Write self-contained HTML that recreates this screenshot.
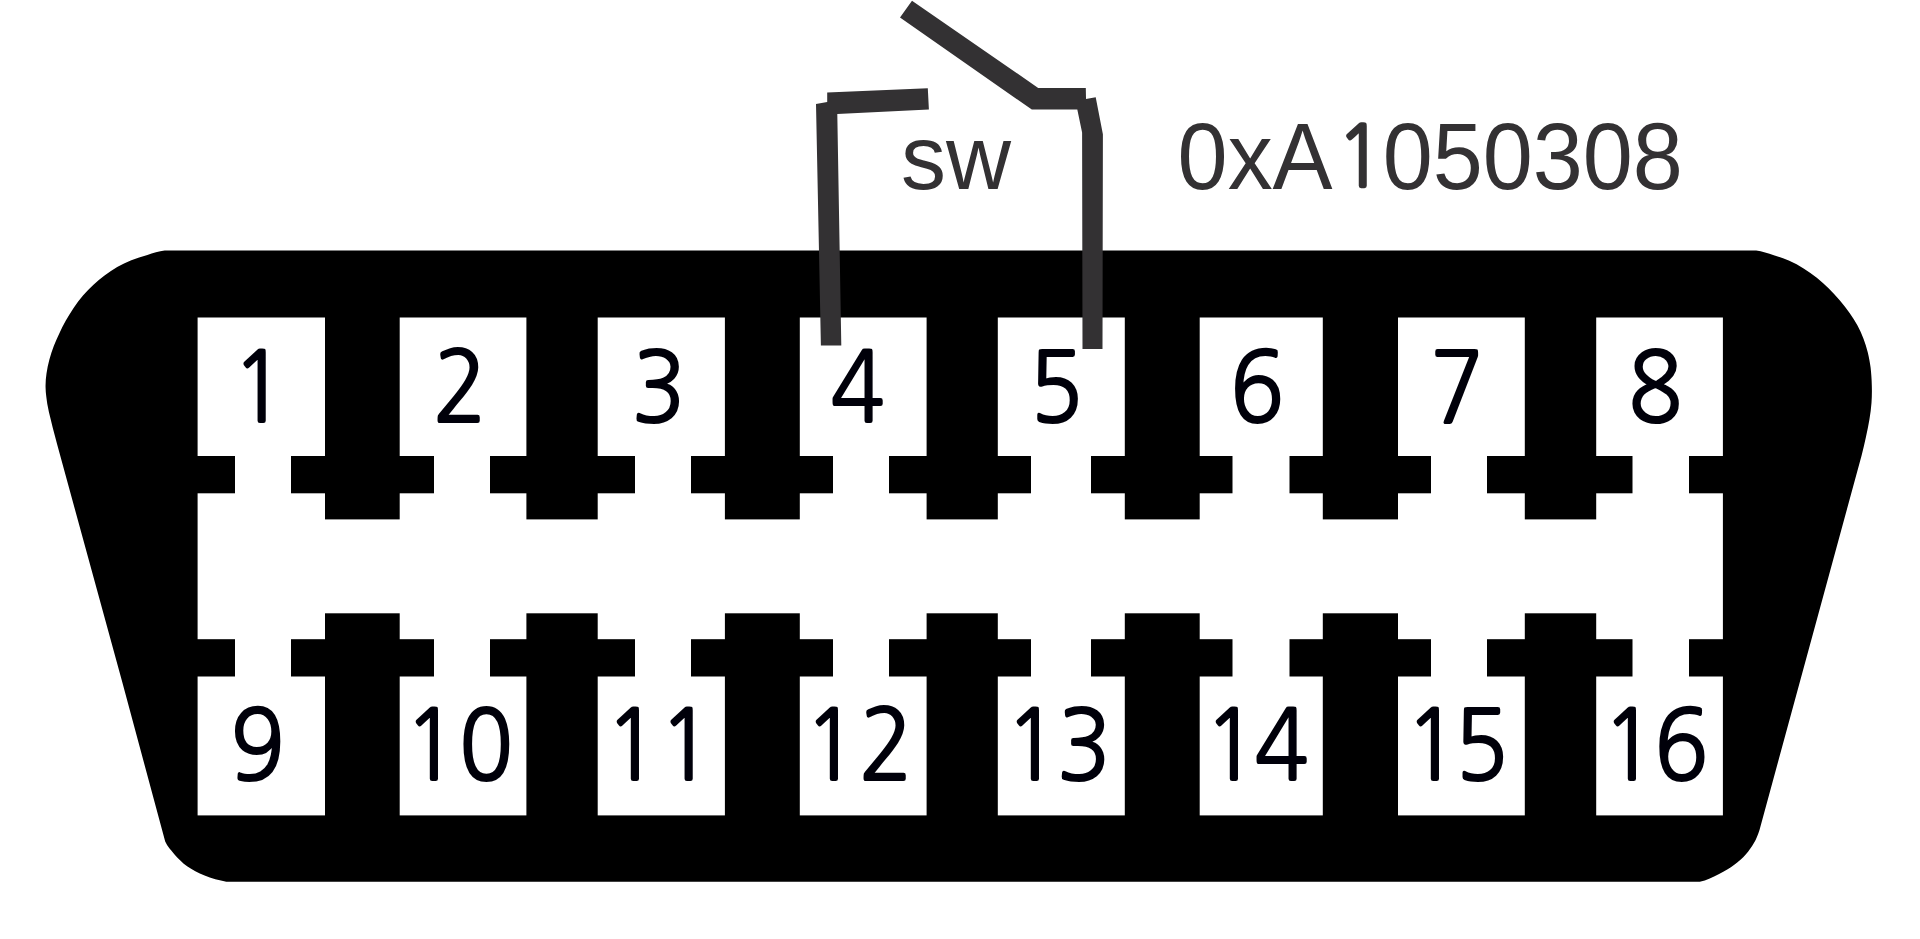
<!DOCTYPE html>
<html lang="en"><head><meta charset="utf-8"><title>OBD-II connector</title>
<style>html,body{margin:0;padding:0;background:#fff;overflow:hidden}svg{display:block}</style>
</head><body>
<svg width="1920" height="939" viewBox="0 0 1920 939" font-family="'Liberation Sans', Arial, sans-serif"><path d="M164.7,250.6 C158.8,251.3 153.0,253.3 147.4,254.9 C141.8,256.5 136.3,258.3 131.3,260.3 C126.3,262.3 121.6,264.6 117.2,267.1 C112.9,269.6 108.9,272.3 104.9,275.2 C101.0,278.1 97.2,281.3 93.5,284.7 C89.8,288.1 86.3,291.7 83.0,295.6 C79.7,299.5 76.5,303.7 73.6,307.9 C70.7,312.1 68.1,316.6 65.7,320.8 C63.3,325.1 61.3,329.2 59.3,333.4 C57.3,337.6 55.5,341.6 53.8,346.0 C52.2,350.3 50.7,354.8 49.4,359.4 C48.2,364.0 47.1,368.7 46.5,373.5 C45.8,378.3 45.4,383.0 45.6,388.1 C45.7,393.2 46.5,398.6 47.3,403.9 C48.2,409.2 49.5,414.5 50.8,419.7 C52.0,425.0 53.3,430.0 54.8,435.5 C56.3,441.1 57.9,447.2 59.5,453.1 L121.7,680 L165.2,841.6 C167.5,846.6 170.5,849.8 174.1,853.9 C177.8,858.0 182.0,862.6 187.1,866.2 C192.2,869.8 198.1,873.0 204.6,875.6 C211.2,878.2 219.4,880.7 226.3,881.7 L1699.8,881.7 C1706.4,880.4 1713.4,876.7 1719.1,873.9 C1724.9,871.0 1729.9,868.0 1734.3,864.7 C1738.8,861.5 1742.5,858.1 1745.7,854.5 C1749.0,850.9 1751.6,847.1 1753.9,843.1 C1756.2,839.0 1757.8,835.1 1759.5,829.9 L1861.6,455.5 C1863.1,449.4 1864.7,442.8 1866.0,436.7 C1867.3,430.7 1868.6,424.8 1869.5,419.1 C1870.4,413.5 1871.1,408.4 1871.5,402.8 C1871.9,397.1 1872.0,391.1 1871.8,385.2 C1871.7,379.3 1871.2,373.1 1870.6,367.6 C1869.9,362.2 1869.0,357.3 1867.8,352.4 C1866.6,347.6 1865.2,343.2 1863.5,338.7 C1861.8,334.2 1859.8,329.8 1857.5,325.5 C1855.2,321.2 1852.5,317.0 1849.6,312.9 C1846.7,308.8 1843.4,304.7 1839.9,300.6 C1836.5,296.6 1832.7,292.4 1828.8,288.6 C1824.9,284.8 1821.0,281.1 1816.8,277.8 C1812.6,274.4 1808.2,271.2 1803.6,268.4 C1799.0,265.6 1794.3,263.0 1789.3,260.8 C1784.3,258.6 1779.3,256.9 1773.8,255.2 C1768.2,253.5 1762.1,251.4 1756.2,250.6 Z" fill="#000"/>
<rect x="197.6" y="317.5" width="1525.3" height="497.9" fill="#fff"/>
<rect x="325" y="316.5" width="74.7" height="202.9" fill="#000"/>
<rect x="325" y="613.3" width="74.7" height="203.1" fill="#000"/>
<rect x="526.4" y="316.5" width="71.3" height="202.9" fill="#000"/>
<rect x="526.4" y="613.3" width="71.3" height="203.1" fill="#000"/>
<rect x="724.9" y="316.5" width="74.9" height="202.9" fill="#000"/>
<rect x="724.9" y="613.3" width="74.9" height="203.1" fill="#000"/>
<rect x="926.6" y="316.5" width="71.2" height="202.9" fill="#000"/>
<rect x="926.6" y="613.3" width="71.2" height="203.1" fill="#000"/>
<rect x="1124.8" y="316.5" width="74.9" height="202.9" fill="#000"/>
<rect x="1124.8" y="613.3" width="74.9" height="203.1" fill="#000"/>
<rect x="1322.8" y="316.5" width="75.2" height="202.9" fill="#000"/>
<rect x="1322.8" y="613.3" width="75.2" height="203.1" fill="#000"/>
<rect x="1524.8" y="316.5" width="71.4" height="202.9" fill="#000"/>
<rect x="1524.8" y="613.3" width="71.4" height="203.1" fill="#000"/>
<rect x="196.6" y="456" width="38.4" height="37.3" fill="#000"/>
<rect x="196.6" y="639.2" width="38.4" height="37.3" fill="#000"/>
<rect x="291" y="456" width="143.0" height="37.3" fill="#000"/>
<rect x="291" y="639.2" width="143.0" height="37.3" fill="#000"/>
<rect x="490" y="456" width="145.0" height="37.3" fill="#000"/>
<rect x="490" y="639.2" width="145.0" height="37.3" fill="#000"/>
<rect x="691" y="456" width="142.0" height="37.3" fill="#000"/>
<rect x="691" y="639.2" width="142.0" height="37.3" fill="#000"/>
<rect x="889" y="456" width="142.0" height="37.3" fill="#000"/>
<rect x="889" y="639.2" width="142.0" height="37.3" fill="#000"/>
<rect x="1091" y="456" width="141.5" height="37.3" fill="#000"/>
<rect x="1091" y="639.2" width="141.5" height="37.3" fill="#000"/>
<rect x="1289.5" y="456" width="141.5" height="37.3" fill="#000"/>
<rect x="1289.5" y="639.2" width="141.5" height="37.3" fill="#000"/>
<rect x="1487" y="456" width="145.5" height="37.3" fill="#000"/>
<rect x="1487" y="639.2" width="145.5" height="37.3" fill="#000"/>
<rect x="1689" y="456" width="34.9" height="37.3" fill="#000"/>
<rect x="1689" y="639.2" width="34.9" height="37.3" fill="#000"/>
<polygon points="912,0.8 900,17.6 1031.8,109.5 1077.3,109.5 1082.1,132.6 1082.5,349 1102.5,349 1102.9,134.2 1095.7,97.2 1086,99.1 1085.8,87.9 1038.2,87.9" fill="#333133"/>
<polygon points="816,103.9 827.2,102 827.2,92.4 927.8,88.3 928.9,109.6 837.3,113.9 841.3,345.6 820.9,345.6" fill="#333133"/>
<g transform="scale(0.92,1)" font-size="97.2" fill="#00000a" stroke="#00000a" stroke-width="2.2" stroke-linejoin="round" font-family="NanumGothic, 'Liberation Sans', sans-serif"><text x="251.90" y="422.0">1</text><text x="470.65" y="422.0">2</text><text x="686.68" y="422.0">3</text><text x="902.72" y="422.0">4</text><text x="1118.75" y="422.0">5</text><text x="1336.96" y="422.0">6</text><text x="1554.35" y="422.0">7</text><text x="1769.84" y="422.0">8</text><text x="250.54" y="780.2">9</text><text x="439.13 498.91" y="780.2">10</text><text x="657.61 716.03" y="780.2">11</text><text x="873.91 933.70" y="780.2">12</text><text x="1092.39 1148.91" y="780.2">13</text><text x="1308.70 1363.59" y="780.2">14</text><text x="1527.17 1580.98" y="780.2">15</text><text x="1741.30 1798.10" y="780.2">16</text></g>
<text x="901" y="189" font-size="90" fill="#333133">sw</text>
<text transform="translate(1177.6,189.1) scale(0.952,1)" x="0" y="0" font-size="94.5" fill="#333133">0xA<tspan x="166.5" dy="-2.3" font-family="NanumGothic, 'Liberation Sans', sans-serif" font-size="84" stroke="#333133" stroke-width="2.6">1</tspan><tspan x="215.38" dy="2.3">050308</tspan></text></svg>
</body></html>
